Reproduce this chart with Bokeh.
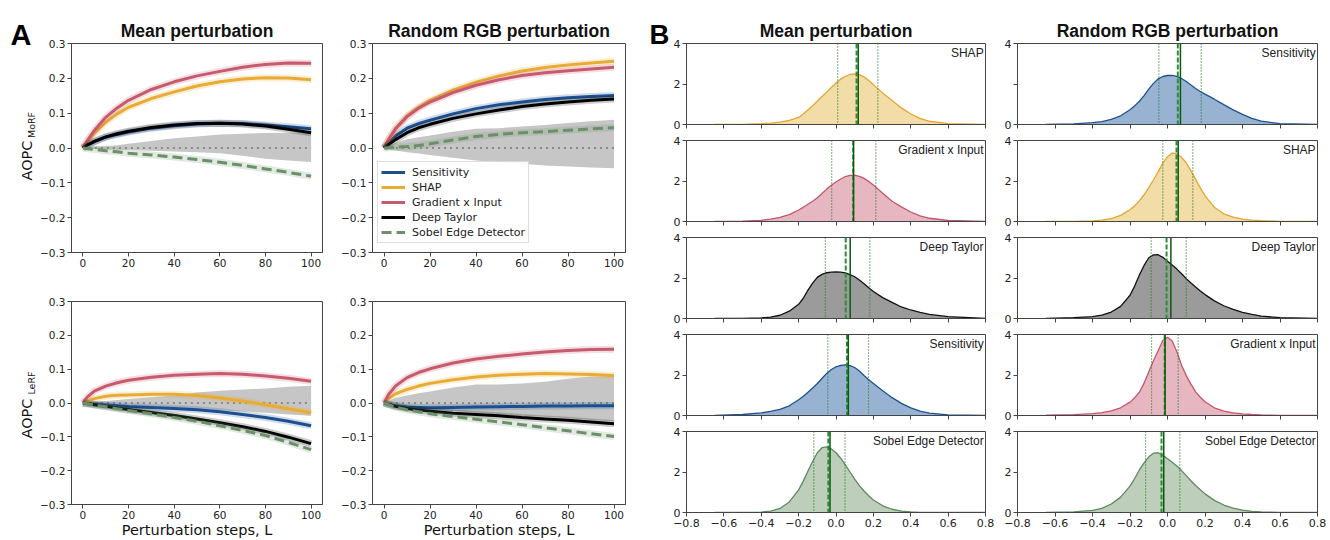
import math
from bokeh.plotting import figure
from bokeh.layouts import row, column
from bokeh.models import Range1d, FixedTicker, Legend, LegendItem, Span, Label
from bokeh.core.properties import value
from bokeh.embed import file_html
from bokeh.resources import INLINE

# ---------------- Panel A data (AOPC vs perturbation steps) ----------------
methods = ["Sensitivity", "SHAP", "Gradient x Input", "Deep Taylor", "Sobel Edge Detector"]
steps = [0, 2, 5, 10, 15, 20, 30, 40, 50, 60, 70, 80, 90, 100]
random_mean = [0, 0, 0, 0, 0, 0, 0, 0, 0, 0, 0, 0, 0, 0]

morf_mean_sens = [0, 0.008, 0.018, 0.031, 0.039, 0.046, 0.057, 0.064, 0.069, 0.071, 0.070, 0.066, 0.061, 0.055]
morf_mean_shap = [0, 0.018, 0.042, 0.074, 0.098, 0.117, 0.142, 0.161, 0.178, 0.190, 0.198, 0.202, 0.201, 0.196]
morf_mean_gxi = [0, 0.022, 0.050, 0.088, 0.115, 0.137, 0.168, 0.190, 0.207, 0.220, 0.232, 0.240, 0.244, 0.243]
morf_mean_dt = [0, 0.009, 0.019, 0.032, 0.041, 0.048, 0.059, 0.066, 0.070, 0.071, 0.069, 0.063, 0.054, 0.044]
morf_mean_sobel = [0, -0.002, -0.004, -0.008, -0.011, -0.015, -0.020, -0.026, -0.033, -0.041, -0.050, -0.060, -0.070, -0.081]
morf_mean_band_hi = [0, 0.002, 0.004, 0.006, 0.008, 0.012, 0.020, 0.028, 0.033, 0.039, 0.041, 0.043, 0.044, 0.045]
morf_mean_band_lo = [0, -0.002, -0.003, -0.004, -0.005, -0.006, -0.008, -0.010, -0.012, -0.015, -0.022, -0.031, -0.036, -0.040]

morf_rand_sens = [0, 0.015, 0.035, 0.057, 0.070, 0.080, 0.098, 0.113, 0.124, 0.132, 0.139, 0.144, 0.148, 0.151]
morf_rand_shap = [0, 0.024, 0.055, 0.092, 0.117, 0.137, 0.166, 0.189, 0.207, 0.221, 0.231, 0.238, 0.244, 0.249]
morf_rand_gxi = [0, 0.025, 0.055, 0.090, 0.114, 0.132, 0.159, 0.180, 0.196, 0.208, 0.216, 0.222, 0.227, 0.232]
morf_rand_dt = [0, 0.010, 0.024, 0.044, 0.058, 0.068, 0.085, 0.098, 0.109, 0.119, 0.126, 0.132, 0.137, 0.141]
morf_rand_sobel = [0, 0.001, 0.002, 0.004, 0.007, 0.012, 0.023, 0.033, 0.039, 0.044, 0.047, 0.051, 0.055, 0.058]
morf_rand_band_hi = [0, 0.007, 0.015, 0.025, 0.031, 0.036, 0.047, 0.055, 0.057, 0.062, 0.066, 0.072, 0.077, 0.081]
morf_rand_band_lo = [0, -0.004, -0.007, -0.012, -0.016, -0.020, -0.028, -0.036, -0.041, -0.045, -0.050, -0.053, -0.056, -0.058]

lerf_mean_sens = [0, -0.001, -0.003, -0.006, -0.008, -0.010, -0.013, -0.016, -0.020, -0.026, -0.034, -0.043, -0.054, -0.067]
lerf_mean_shap = [0, 0.006, 0.013, 0.020, 0.023, 0.024, 0.026, 0.026, 0.022, 0.015, 0.006, -0.005, -0.017, -0.029]
lerf_mean_gxi = [0, 0.018, 0.035, 0.050, 0.060, 0.067, 0.076, 0.082, 0.085, 0.087, 0.085, 0.080, 0.073, 0.064]
lerf_mean_dt = [0, -0.002, -0.005, -0.010, -0.015, -0.019, -0.028, -0.037, -0.047, -0.058, -0.070, -0.084, -0.101, -0.120]
lerf_mean_sobel = [0, -0.002, -0.006, -0.011, -0.017, -0.022, -0.032, -0.043, -0.054, -0.067, -0.081, -0.096, -0.116, -0.138]
lerf_mean_band_hi = [0, 0.002, 0.003, 0.006, 0.009, 0.012, 0.017, 0.022, 0.031, 0.036, 0.040, 0.043, 0.048, 0.051]
lerf_mean_band_lo = [0, -0.001, -0.002, -0.004, -0.006, -0.007, -0.010, -0.014, -0.018, -0.022, -0.025, -0.029, -0.034, -0.038]

lerf_rand_sens = [0, -0.004, -0.008, -0.012, -0.013, -0.014, -0.013, -0.012, -0.011, -0.010, -0.009, -0.009, -0.008, -0.008]
lerf_rand_shap = [0, 0.013, 0.027, 0.040, 0.050, 0.058, 0.069, 0.077, 0.082, 0.085, 0.087, 0.086, 0.084, 0.081]
lerf_rand_gxi = [0, 0.025, 0.050, 0.075, 0.090, 0.101, 0.118, 0.130, 0.138, 0.145, 0.151, 0.155, 0.158, 0.159]
lerf_rand_dt = [0, -0.004, -0.010, -0.016, -0.021, -0.024, -0.030, -0.034, -0.038, -0.043, -0.047, -0.051, -0.056, -0.061]
lerf_rand_sobel = [0, -0.005, -0.012, -0.020, -0.026, -0.032, -0.040, -0.048, -0.056, -0.064, -0.073, -0.082, -0.091, -0.099]
lerf_rand_band_hi = [0, 0.007, 0.015, 0.022, 0.029, 0.034, 0.046, 0.055, 0.055, 0.058, 0.063, 0.072, 0.078, 0.080]
lerf_rand_band_lo = [0, -0.004, -0.007, -0.012, -0.016, -0.019, -0.024, -0.029, -0.034, -0.038, -0.041, -0.045, -0.050, -0.055]

a_xticks = [0, 20, 40, 60, 80, 100]
a_yticks = [-0.3, -0.2, -0.1, 0.0, 0.1, 0.2, 0.3]
a_ylabels = ["\u22120.3", "\u22120.2", "\u22120.1", "0.0", "0.1", "0.2", "0.3"]

# ---------------- Panel B data (density of AOPC differences) ----------------
kde_x = [-0.65, -0.5, -0.4, -0.35, -0.3, -0.25, -0.2, -0.175, -0.15, -0.125, -0.1, -0.075, -0.05, -0.025, 0.0,
         0.025, 0.05, 0.075, 0.1, 0.125, 0.15, 0.175, 0.2, 0.25, 0.3, 0.35, 0.4, 0.45, 0.5, 0.6, 0.8]

mean_shap_kde = [0, 0.01, 0.04, 0.07, 0.12, 0.2, 0.35, 0.52, 0.72, 0.93, 1.15, 1.38, 1.6, 1.83, 2.05,
                 2.24, 2.38, 2.47, 2.5, 2.46, 2.35, 2.17, 1.97, 1.55, 1.18, 0.82, 0.52, 0.3, 0.16, 0.04, 0.0]
mean_gxi_kde = [0, 0.02, 0.06, 0.12, 0.2, 0.34, 0.57, 0.7, 0.85, 1.0, 1.17, 1.38, 1.6, 1.79, 1.95,
                2.1, 2.22, 2.28, 2.29, 2.23, 2.13, 1.98, 1.8, 1.4, 1.0, 0.72, 0.47, 0.28, 0.16, 0.05, 0.0]
mean_dt_kde = [0, 0.01, 0.03, 0.07, 0.16, 0.36, 0.7, 1.0, 1.4, 1.75, 2.03, 2.18, 2.26, 2.29, 2.3,
               2.29, 2.25, 2.17, 2.06, 1.9, 1.72, 1.52, 1.33, 1.03, 0.8, 0.57, 0.42, 0.3, 0.2, 0.09, 0.01]
mean_sens_kde = [0, 0.05, 0.13, 0.2, 0.3, 0.48, 0.78, 0.95, 1.15, 1.36, 1.58, 1.83, 2.08, 2.27, 2.4,
                 2.47, 2.5, 2.46, 2.37, 2.2, 1.98, 1.77, 1.58, 1.22, 0.88, 0.6, 0.38, 0.22, 0.12, 0.03, 0.0]
mean_sobel_kde = [0, 0, 0.02, 0.07, 0.2, 0.52, 1.12, 1.55, 2.05, 2.52, 2.95, 3.2, 3.24, 3.14, 2.95,
                  2.68, 2.35, 2.0, 1.65, 1.33, 1.06, 0.83, 0.62, 0.33, 0.16, 0.07, 0.03, 0.01, 0, 0, 0]

rand_sens_kde = [0, 0.03, 0.09, 0.14, 0.25, 0.43, 0.73, 0.92, 1.15, 1.43, 1.75, 2.03, 2.25, 2.37, 2.42,
                 2.43, 2.38, 2.27, 2.12, 1.95, 1.78, 1.63, 1.5, 1.25, 0.98, 0.72, 0.5, 0.3, 0.17, 0.04, 0]
rand_shap_kde = [0, 0.01, 0.03, 0.07, 0.14, 0.3, 0.58, 0.78, 1.02, 1.32, 1.67, 2.05, 2.45, 2.88, 3.2,
                 3.38, 3.35, 3.17, 2.9, 2.5, 2.08, 1.66, 1.28, 0.7, 0.38, 0.22, 0.12, 0.07, 0.04, 0.01, 0]
rand_dt_kde = [0, 0.04, 0.09, 0.17, 0.32, 0.6, 1.15, 1.6, 2.15, 2.62, 3.0, 3.14, 3.15, 3.02, 2.83,
               2.64, 2.44, 2.21, 1.97, 1.75, 1.55, 1.36, 1.18, 0.87, 0.63, 0.45, 0.3, 0.2, 0.12, 0.04, 0]
rand_gxi_kde = [0.02, 0.04, 0.09, 0.14, 0.23, 0.38, 0.66, 0.88, 1.15, 1.6, 2.15, 2.7, 3.2, 3.7, 3.86,
                3.68, 3.15, 2.48, 1.97, 1.55, 1.17, 0.9, 0.68, 0.38, 0.22, 0.13, 0.08, 0.05, 0.03, 0.01, 0]
rand_sobel_kde = [0, 0.03, 0.1, 0.2, 0.42, 0.76, 1.3, 1.68, 2.1, 2.45, 2.75, 2.93, 2.95, 2.82, 2.65,
                  2.48, 2.3, 2.07, 1.82, 1.57, 1.33, 1.12, 0.92, 0.6, 0.37, 0.22, 0.12, 0.06, 0.03, 0.01, 0]

# Left column order (Mean perturbation) and right column order (Random RGB perturbation)
mean_order = ["SHAP", "Gradient x Input", "Deep Taylor", "Sensitivity", "Sobel Edge Detector"]
mean_means = [0.119, 0.094, 0.076, 0.066, -0.032]
mean_medians = [0.110, 0.092, 0.052, 0.059, -0.041]
mean_q_lo = [0.009, -0.023, -0.057, -0.044, -0.119]
mean_q_hi = [0.224, 0.213, 0.181, 0.174, 0.048]

rand_order = ["Sensitivity", "SHAP", "Deep Taylor", "Gradient x Input", "Sobel Edge Detector"]
rand_means = [0.069, 0.057, 0.018, -0.013, -0.020]
rand_medians = [0.055, 0.048, -0.005, -0.015, -0.032]
rand_q_lo = [-0.046, -0.025, -0.087, -0.085, -0.117]
rand_q_hi = [0.180, 0.135, 0.100, 0.057, 0.066]

b_xticks = [-0.8, -0.6, -0.4, -0.2, 0.0, 0.2, 0.4, 0.6, 0.8]
b_xlabels = ["\u22120.8", "\u22120.6", "\u22120.4", "\u22120.2", "0.0", "0.2", "0.4", "0.6", "0.8"]
b_yticks = [0, 2, 4]
b_ylabels = ["0", "2", "4"]

# ---------------- styles ----------------
FRAME = "#444444"
LINE_C = {"Sensitivity": "#1b4f91", "SHAP": "#e8ab34", "Gradient x Input": "#c65a6e",
          "Deep Taylor": "#000000", "Sobel Edge Detector": "#6b8f68"}
FILL_C = {"Sensitivity": "#97b3d1", "SHAP": "#f2dca8", "Gradient x Input": "#e6b7c1",
          "Deep Taylor": "#9b9b9b", "Sobel Edge Detector": "#bdcfba"}
KDE_C = {"Sensitivity": "#1f5190", "SHAP": "#e2a631", "Gradient x Input": "#c4566b",
         "Deep Taylor": "#111111", "Sobel Edge Detector": "#5d8a5c"}
BAND = "#c6c6c6"
TOTAL_H = 540


def style_axes(p, show_x_labels=True, font_size="11px"):
    p.grid.visible = False
    p.outline_line_color = FRAME
    p.outline_line_width = 1
    p.background_fill_color = "white"
    p.border_fill_color = "white"
    for ax in (p.xaxis[0], p.yaxis[0]):
        ax.axis_line_color = FRAME
        ax.major_tick_line_color = FRAME
        ax.major_tick_in = 0
        ax.major_tick_out = 4
        ax.minor_tick_line_color = None
        ax.major_label_text_font = "DejaVu Sans"
        ax.major_label_text_font_size = font_size
        ax.major_label_text_color = "#222222"
        ax.major_label_standoff = 2
    if not show_x_labels:
        p.xaxis[0].major_label_text_font_size = "0px"
        p.xaxis[0].major_label_text_color = None
        p.xaxis[0].major_label_standoff = 0


def style_title(p):
    p.title.align = "center"
    p.title.text_font = "Liberation Sans"
    p.title.text_font_style = "bold"
    p.title.text_font_size = "17.5px"
    p.title.text_color = "#111111"
    p.title.standoff = 6


def a_fig(w, h, bl, br, bt, bb, title_text, series, band_lo, band_hi, xlabel=None):
    p = figure(width=w, height=h, x_range=Range1d(-5, 105), y_range=Range1d(-0.3, 0.3),
               output_backend="svg", toolbar_location=None, title=title_text,
               min_border_left=bl, min_border_right=br, min_border_top=bt, min_border_bottom=bb)
    style_axes(p, font_size="10.5px")
    if title_text:
        style_title(p)
    p.xaxis.ticker = FixedTicker(ticks=a_xticks, minor_ticks=[])
    p.yaxis.ticker = FixedTicker(ticks=a_yticks, minor_ticks=[])
    p.yaxis.major_label_overrides = dict(zip(a_yticks, a_ylabels))
    if xlabel:
        p.xaxis.axis_label = xlabel
        p.xaxis.axis_label_text_font = "DejaVu Sans"
        p.xaxis.axis_label_text_font_size = "14.5px"
        p.xaxis.axis_label_text_font_style = "normal"
        p.xaxis.axis_label_text_color = "#111111"
        p.xaxis.axis_label_standoff = 0
    p.varea(x=steps, y1=band_lo, y2=band_hi, fill_color=BAND, fill_alpha=1.0)
    p.line(steps, random_mean, line_color="#8a8a8a", line_width=2.2, line_dash="2 4")
    rends = []
    for name, vals in zip(methods, series):
        col = LINE_C[name]
        p.line(steps, vals, line_color=col, line_width=7, line_alpha=0.2)
        dash = "10 5" if name == "Sobel Edge Detector" else "solid"
        r = p.line(steps, vals, line_color=col, line_width=3, line_dash=dash)
        rends.append(r)
    return p, rends


def b_fig(w, h, bl, br, bt, bb, title_text, name, kde, m, med, qlo, qhi, last, ylabels):
    p = figure(width=w, height=h, x_range=Range1d(-0.8, 0.8), y_range=Range1d(0, 4),
               output_backend="svg", toolbar_location=None, title=title_text,
               min_border_left=bl, min_border_right=br, min_border_top=bt, min_border_bottom=bb)
    style_axes(p, show_x_labels=last)
    if title_text:
        style_title(p)
    p.xaxis.ticker = FixedTicker(ticks=b_xticks, minor_ticks=[])
    p.yaxis.ticker = FixedTicker(ticks=b_yticks, minor_ticks=[])
    p.yaxis.major_label_overrides = dict(zip(b_yticks, ylabels))
    if last:
        p.xaxis.major_label_overrides = dict(zip(b_xticks, b_xlabels))
    p.varea(x=kde_x, y1=0, y2=kde, fill_color=FILL_C[name], fill_alpha=1.0)
    p.line(kde_x, kde, line_color=KDE_C[name], line_width=1.3)
    p.add_layout(Span(location=qlo, dimension="height", line_color="#1f7a1f", line_width=1.2, line_dash="1 2"))
    p.add_layout(Span(location=qhi, dimension="height", line_color="#1f7a1f", line_width=1.2, line_dash="1 2"))
    p.add_layout(Span(location=med, dimension="height", line_color="#2e8b3a", line_width=2, line_dash="5 2"))
    p.add_layout(Span(location=m, dimension="height", line_color="#0a5c0a", line_width=1.5))
    p.add_layout(Label(x=0.79, y=4, y_offset=-2, text=name, text_align="right", text_baseline="top",
                       text_font="Liberation Sans", text_font_size="12px", text_color="#222222"))
    return p


def strip_fig(w):
    p = figure(width=w, height=TOTAL_H, x_range=Range1d(0, w), y_range=Range1d(0, TOTAL_H),
               output_backend="svg", toolbar_location=None, x_axis_type=None, y_axis_type=None,
               min_border=0)
    p.outline_line_color = None
    p.grid.visible = False
    p.background_fill_color = "white"
    p.border_fill_color = "white"
    return p


# ---------------- Panel A ----------------
a_tl, _ = a_fig(301, 276, 31, 16, 43, 24, "Mean perturbation",
                [morf_mean_sens, morf_mean_shap, morf_mean_gxi, morf_mean_dt, morf_mean_sobel],
                morf_mean_band_lo, morf_mean_band_hi)
a_tr, rends = a_fig(302, 276, 34, 15, 43, 24, "Random RGB perturbation",
                    [morf_rand_sens, morf_rand_shap, morf_rand_gxi, morf_rand_dt, morf_rand_sobel],
                    morf_rand_band_lo, morf_rand_band_hi)
a_bl, _ = a_fig(301, 264, 31, 16, 25, 30, None,
                [lerf_mean_sens, lerf_mean_shap, lerf_mean_gxi, lerf_mean_dt, lerf_mean_sobel],
                lerf_mean_band_lo, lerf_mean_band_hi, xlabel="Perturbation steps, L")
a_br, _ = a_fig(302, 264, 34, 15, 25, 30, None,
                [lerf_rand_sens, lerf_rand_shap, lerf_rand_gxi, lerf_rand_dt, lerf_rand_sobel],
                lerf_rand_band_lo, lerf_rand_band_hi, xlabel="Perturbation steps, L")

legend = Legend(items=[LegendItem(label=n, renderers=[r]) for n, r in zip(methods, rends)],
                location=(5, 9))
legend.label_text_font = "DejaVu Sans"
legend.label_text_font_size = "11px"
legend.label_text_color = "#222222"
legend.glyph_width = 24
legend.glyph_height = 14
legend.label_height = 14
legend.label_standoff = 7
legend.spacing = 1
legend.padding = 3
legend.margin = 0
legend.border_line_color = "#bbbbbb"
legend.background_fill_alpha = 0.85
a_tr.add_layout(legend)

# left strip: panel letter and y-axis labels (AOPC with subscripts)
strip_a = strip_fig(37)
strip_a.text(x=[10], y=[TOTAL_H - 34], text=["A"], text_font=value("Liberation Sans"),
             text_font_style="bold", text_font_size=value("29px"), text_color="black",
             text_align="left", text_baseline="alphabetic")
strip_a.text(x=[26.5, 26.5], y=[TOTAL_H - 160, TOTAL_H - 418], text=["AOPC", "AOPC"], angle=math.pi / 2,
             text_font=value("DejaVu Sans"), text_font_size=value("14.5px"), text_color="#111111",
             text_align="center", text_baseline="middle")
strip_a.text(x=[31, 31], y=[TOTAL_H - 124.5, TOTAL_H - 382.5], text=["MoRF", "LeRF"], angle=math.pi / 2,
             text_font=value("DejaVu Sans"), text_font_size=value("9.5px"), text_color="#111111",
             text_align="center", text_baseline="middle")

strip_b = strip_fig(30)
strip_b.text(x=[9], y=[TOTAL_H - 34], text=["B"], text_font=value("Liberation Sans"),
             text_font_style="bold", text_font_size=value("27.5px"), text_color="black",
             text_align="left", text_baseline="alphabetic")

# ---------------- Panel B ----------------
mean_kdes = {"SHAP": mean_shap_kde, "Gradient x Input": mean_gxi_kde, "Deep Taylor": mean_dt_kde,
             "Sensitivity": mean_sens_kde, "Sobel Edge Detector": mean_sobel_kde}
rand_kdes = {"Sensitivity": rand_sens_kde, "SHAP": rand_shap_kde, "Deep Taylor": rand_dt_kde,
             "Gradient x Input": rand_gxi_kde, "Sobel Edge Detector": rand_sobel_kde}

row_dims = [(132, 43, 8), (97, 8, 8), (97, 8, 8), (97, 8, 8), (117, 8, 28)]
b_left, b_right = [], []
for i in range(5):
    h, bt, bb = row_dims[i]
    last = (i == 4)
    n = mean_order[i]
    b_left.append(b_fig(325, h, 15, 10, bt, bb, "Mean perturbation" if i == 0 else None, n, mean_kdes[n],
                        mean_means[i], mean_medians[i], mean_q_lo[i], mean_q_hi[i], last, b_ylabels))
    n = rand_order[i]
    yl = ["0", "", "4"] if i == 0 else b_ylabels
    b_right.append(b_fig(335, h, 22, 13, bt, bb, "Random RGB perturbation" if i == 0 else None, n, rand_kdes[n],
                         rand_means[i], rand_medians[i], rand_q_lo[i], rand_q_hi[i], last, yl))

layout = row(strip_a, column(a_tl, a_bl, spacing=0), column(a_tr, a_br, spacing=0), strip_b,
             column(*b_left, spacing=0), column(*b_right, spacing=0), spacing=0)

open("out.html", "w").write(file_html(layout, INLINE))
